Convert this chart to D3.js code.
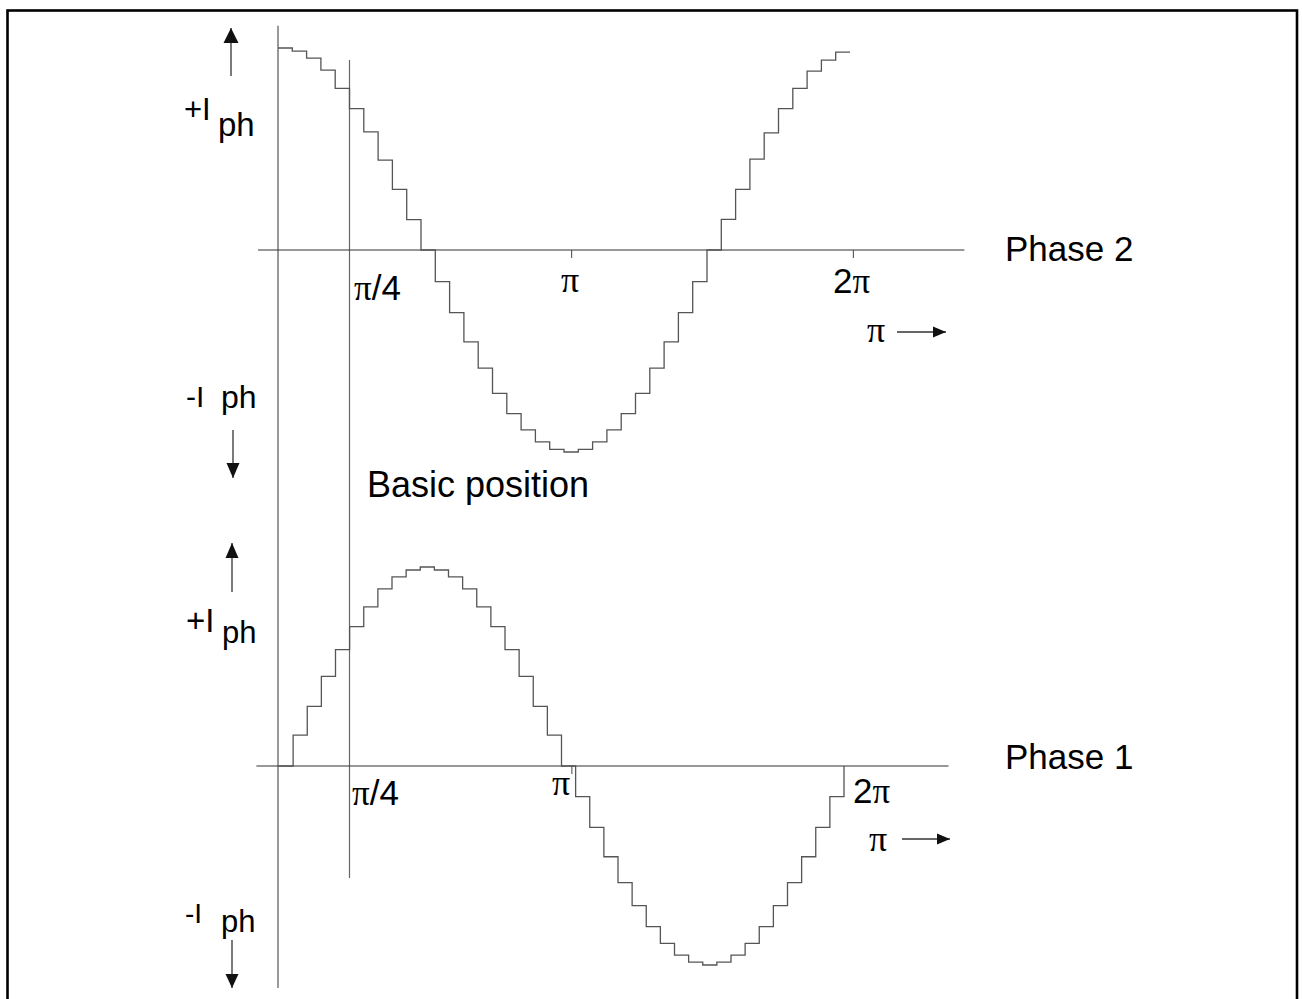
<!DOCTYPE html>
<html>
<head>
<meta charset="utf-8">
<script src="https://cdn.jsdelivr.net/npm/d3@7"></script>
<style>
    body { margin: 0; background: #fff; overflow: hidden; }
    svg { display: block; }
    text { font-family: "Liberation Sans", Arial, sans-serif; fill: #000; }
    .pi { font-family: "Liberation Serif", "Times New Roman", serif; }
</style>
</head>
<body>
<div id="chart"></div>
<script>
var width = 1302, height = 999;

/* Step levels, 20 steps per pi (index = step number, value = relative current) */
var phase2Levels = [1.00, 0.985, 0.95, 0.89, 0.80, 0.70, 0.585, 0.445, 0.30, 0.15,
                    0, -0.157, -0.31, -0.455, -0.585, -0.71, -0.81, -0.89, -0.95, -0.987,
                    -1.00, -0.987, -0.95, -0.89, -0.81, -0.71, -0.585, -0.455, -0.31, -0.157,
                    0, 0.152, 0.30, 0.45, 0.58, 0.70, 0.80, 0.886, 0.94, 0.98];
var phase2End = 0.98;

var phase1Levels = [0, 0.155, 0.30, 0.45, 0.585, 0.70, 0.80, 0.89, 0.95, 0.985,
                    1.00, 0.985, 0.95, 0.89, 0.80, 0.70, 0.585, 0.45, 0.30, 0.155,
                    0, -0.154, -0.308, -0.456, -0.586, -0.702, -0.807, -0.891, -0.95, -0.986,
                    -1.00, -0.986, -0.95, -0.891, -0.807, -0.702, -0.586, -0.456, -0.308, -0.154];
var phase1End = 0;

/* Tick positions (in steps) and axis extents */
var phase2Ticks = [20.5, 40.2];
var phase1Ticks = [20.7];
var phase2AxisExtent = [-1.4, 48];
var phase1AxisExtent = [-1.6, 47.4];

var svg = d3.select("#chart")
    .append("svg")
    .attr("width", width)
    .attr("height", height);

/* frame (bottom edge runs off the picture) */
svg.append("rect")
    .attr("x", 7.5).attr("y", 10.5)
    .attr("width", 1289.5).attr("height", 1100)
    .attr("fill", "none")
    .attr("stroke", "#000")
    .attr("stroke-width", 2.6);

/* scales for the two phases */
var x2 = d3.scaleLinear().domain([0, 40]).range([278, 850]);
var y2 = d3.scaleLinear().domain([-1, 1]).range([452, 48]);
var x1 = d3.scaleLinear().domain([0, 40]).range([279, 844]);
var y1 = d3.scaleLinear().domain([-1, 1]).range([965, 567]);

/* guide verticals: origin and pi/4 */
svg.append("line")
    .attr("x1", x2(0)).attr("x2", x2(0))
    .attr("y1", y2(1.11)).attr("y2", y1(-1.115))
    .attr("stroke", "#555").attr("stroke-width", 1.2);
svg.append("line")
    .attr("x1", x2(5)).attr("x2", x2(5))
    .attr("y1", y2(0.94)).attr("y2", y1(-0.563))
    .attr("stroke", "#666").attr("stroke-width", 1.2);

function phase (x, y, levels, endLevel, ticks, extent)
{
    var g = svg.append("g");

    /* horizontal axis */
    g.append("line")
        .attr("x1", x(extent[0])).attr("x2", x(extent[1]))
        .attr("y1", y(0)).attr("y2", y(0))
        .attr("stroke", "#333").attr("stroke-width", 1.2);

    var axis = g.append("g")
        .attr("transform", "translate(0," + y(0) + ")")
        .call(d3.axisBottom(x).tickValues(ticks).tickSize(8).tickFormat(""));
    axis.select(".domain").remove();
    axis.selectAll(".tick line").attr("stroke", "#444");

    /* staircase */
    var pts = levels.map(function (v, i) { return [i, v]; });
    pts.push([levels.length, endLevel]);

    var line = d3.line()
        .x(function (d) { return x(d[0]); })
        .y(function (d) { return y(d[1]); })
        .curve(d3.curveStepAfter);

    g.append("path")
        .datum(pts)
        .attr("d", line)
        .attr("fill", "none")
        .attr("stroke", "#555")
        .attr("stroke-width", 1.3);
}

phase(x2, y2, phase2Levels, phase2End, phase2Ticks, phase2AxisExtent);
phase(x1, y1, phase1Levels, phase1End, phase1Ticks, phase1AxisExtent);

/* arrows */
function arrow (xa, ya, xb, yb, head, half)
{
    svg.append("line")
        .attr("x1", xa).attr("y1", ya).attr("x2", xb).attr("y2", yb)
        .attr("stroke", "#333").attr("stroke-width", 1.3);
    var a = Math.atan2(yb - ya, xb - xa);
    var bx = xb - head * Math.cos(a), by = yb - head * Math.sin(a);
    var px = -Math.sin(a) * half, py = Math.cos(a) * half;
    svg.append("path")
        .attr("d", "M" + xb + "," + yb + "L" + (bx + px) + "," + (by + py) + "L" + (bx - px) + "," + (by - py) + "Z")
        .attr("fill", "#111");
}
arrow(231, 76, 231, 28, 15, 7.5);
arrow(233, 430, 233, 478, 15, 6.5);
arrow(232, 592, 232, 543, 15, 6.5);
arrow(232, 940, 232, 988, 14, 6.5);
arrow(897, 332, 946, 332, 13, 5.5);
arrow(902, 839, 950, 839, 13, 5.5);

/* text labels */
function label (parts, x, y, size)
{
    var t = svg.append("text")
        .attr("x", x).attr("y", y)
        .style("font-size", size + "px");
    parts.forEach(function (p) {
        t.append("tspan")
            .attr("class", p[1] ? "pi" : null)
            .text(p[0]);
    });
}

label([["\u03c0", 1], ["/4"]], 354, 300, 35);
label([["\u03c0", 1]], 561, 292, 36);
label([["2"], ["\u03c0", 1]], 833, 293, 35);
label([["\u03c0", 1]], 867, 342, 36);

label([["\u03c0", 1], ["/4"]], 352, 805, 35);
label([["\u03c0", 1]], 552, 795, 36);
label([["2"], ["\u03c0", 1]], 853, 803, 35);
label([["\u03c0", 1]], 869, 851, 36);

label([["Phase 2"]], 1005, 261, 35);
label([["Phase 1"]], 1005, 769, 35);
label([["Basic position"]], 367, 497, 36);

label([["+I"]], 184, 120, 31);
label([["ph"]], 218, 136, 33);
label([["-I"]], 186, 407, 30);
label([["ph"]], 221, 408, 32);
label([["+I"]], 186, 632, 33);
label([["ph"]], 222, 643, 31);
label([["-I"]], 185, 923, 28);
label([["ph"]], 221, 932, 31);
</script>
</body>
</html>
